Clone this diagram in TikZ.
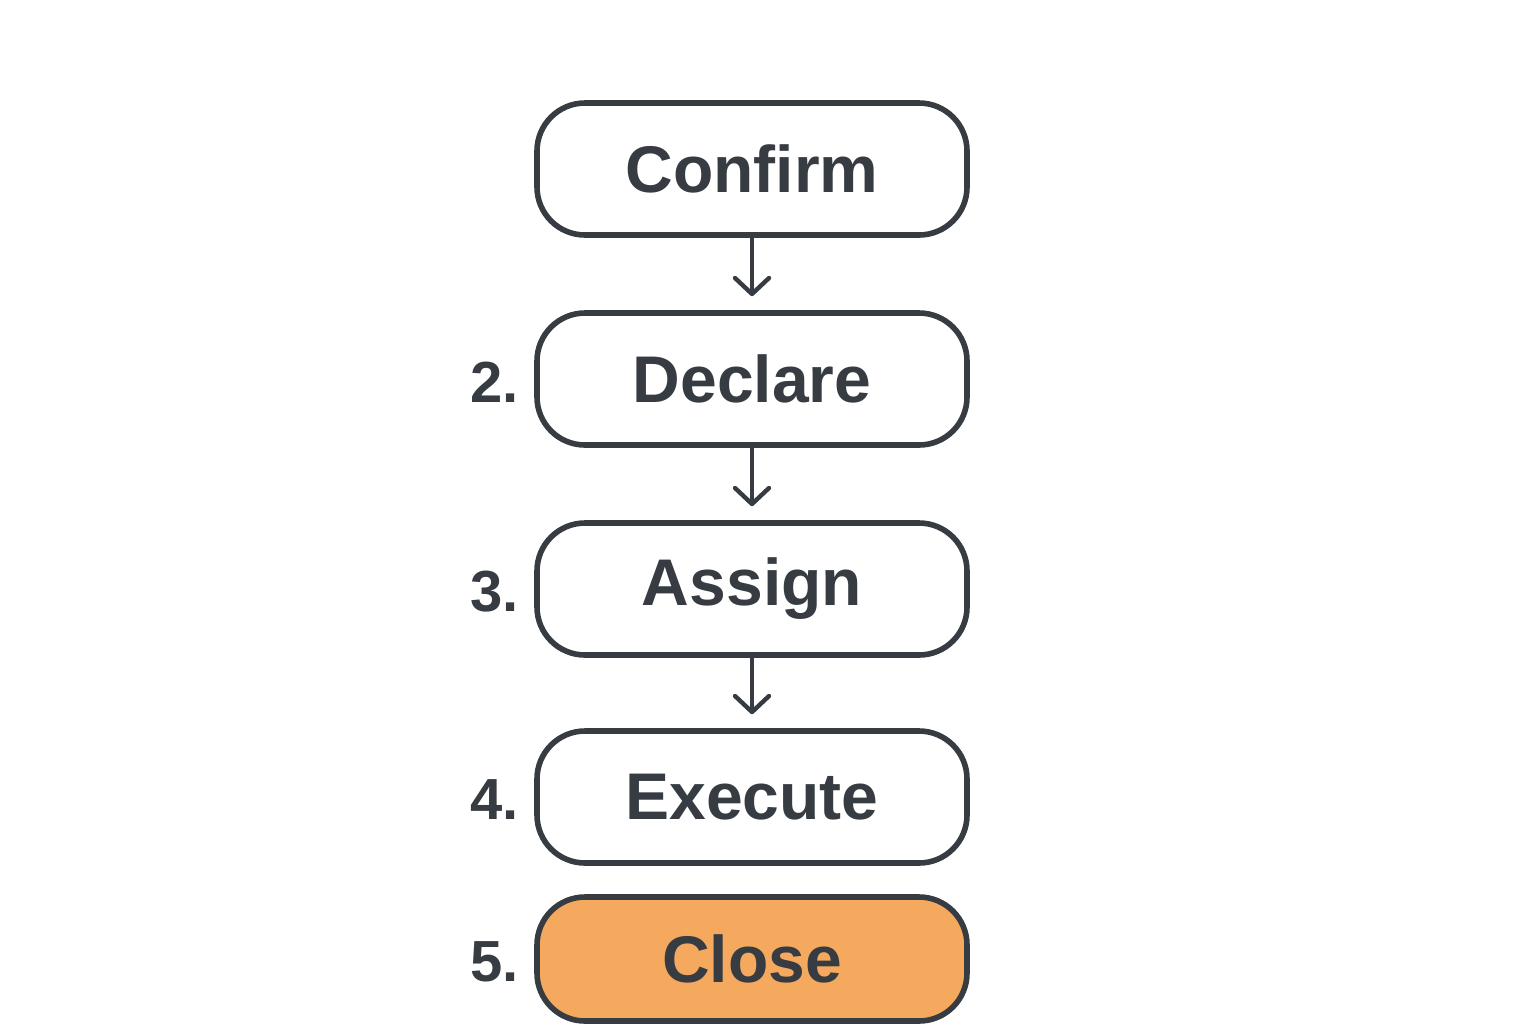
\documentclass[tikz,border=0pt]{standalone}
\usepackage{fontspec}
\setmainfont{Liberation Sans}
\usetikzlibrary{arrows.meta}
\definecolor{ink}{HTML}{363C42}
\definecolor{closefill}{HTML}{F5A95E}
\begin{document}
\begin{tikzpicture}[x=0.5pt,y=-0.5pt,
  stepbox/.style={draw=ink, line width=2.8pt, rounded corners=24pt, minimum width=215pt, minimum height=66pt, fill=white, text=ink, font=\fontsize{33}{40}\selectfont\bfseries, inner sep=0pt},
  numlabel/.style={text=ink, font=\fontsize{29}{32}\selectfont\bfseries, anchor=east, inner sep=0pt},
  flow/.style={draw=ink, line width=2.2pt, -{Straight Barb[length=8pt, width=17pt, line width=2.2pt, line cap=round, line join=round]}, shorten >=7pt}
]
\useasboundingbox (0,0) rectangle (1536,1024);
\node[stepbox] (s1) at (752,169) {Confirm};
\node[stepbox] (s2) at (752,379) {Declare};
\node[stepbox] (s3) at (752,589) {Assign};
\node[stepbox] (s4) at (752,797) {Execute};
\node[stepbox, fill=closefill, minimum height=62pt] (s5) at (752,959) {Close};
\node[numlabel] (n2) at (519,382) {2.};
\node[numlabel] (n3) at (519,592) {3.};
\node[numlabel] (n4) at (519,800) {4.};
\node[numlabel] (n5) at (519,962) {5.};
\draw[flow] (s1.south) -- (s2.north);
\draw[flow] (s2.south) -- (s3.north);
\draw[flow] (s3.south) -- (s4.north);
\end{tikzpicture}
\end{document}
